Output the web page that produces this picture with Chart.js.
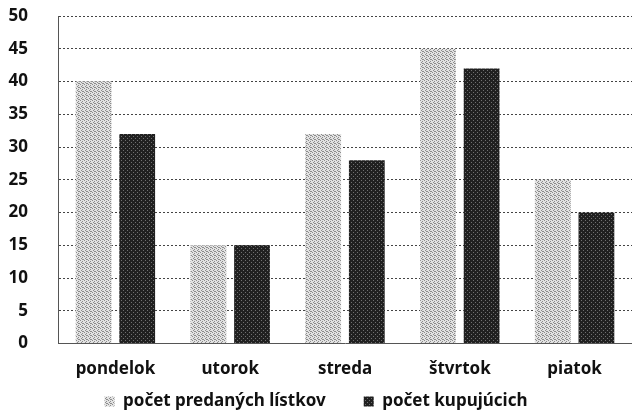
<!DOCTYPE html>
<html>
<head>
<meta charset="utf-8">
<script src="https://cdn.jsdelivr.net/npm/chart.js@4.4.1/dist/chart.umd.min.js"></script>
<style>
  html, body { margin: 0; padding: 0; background: #fff; }
  #wrap { width: 632px; height: 414px; }
</style>
</head>
<body>
<div id="wrap"><canvas id="myChart"></canvas></div>
<script>
var days = ["pondelok", "utorok", "streda", "štvrtok", "piatok"];
var soldTickets = [40, 15, 32, 45, 25];
var buyers = [32, 15, 28, 42, 20];
var seriesNames = ["počet predaných lístkov", "počet kupujúcich"];

// small stippled texture like the scanned print
function makePattern(base, dot, dots) {
    var c = document.createElement("canvas");
    c.width = 4;
    c.height = 4;
    var g = c.getContext("2d");
    g.fillStyle = base;
    g.fillRect(0, 0, 4, 4);
    g.fillStyle = dot;
    dots.forEach(function(p) {
        g.fillRect(p[0], p[1], 1, 1);
    });
    return g.createPattern(c, "repeat");
}

var lightFill = makePattern("#e2e2e2", "#8c8c8c", [[0, 0], [2, 1], [1, 2], [3, 3], [2, 3]]);
var darkFill = makePattern("#202020", "#707070", [[1, 0], [3, 2]]);

Chart.defaults.font.family = "'Noto Sans', sans-serif";
Chart.defaults.font.weight = "bold";
Chart.defaults.color = "#111";

var config = {
    type: "bar",
    data: {
        labels: days,
        datasets: [{
            label: seriesNames[0],
            data: soldTickets,
            backgroundColor: lightFill,
            categoryPercentage: 0.76,
            barPercentage: 0.82
        }, {
            label: seriesNames[1],
            data: buyers,
            backgroundColor: darkFill,
            categoryPercentage: 0.76,
            barPercentage: 0.82
        }]
    },
    options: {
        responsive: true,
        maintainAspectRatio: false,
        animation: false,
        layout: { padding: { top: 16, right: 0, left: 0, bottom: -6 } },
        plugins: {
            legend: {
                position: "bottom",
                labels: {
                    boxWidth: 10,
                    boxHeight: 10,
                    padding: 7,
                    font: { size: 17, weight: "bold" },
                    generateLabels: function(chart) {
                        var items = Chart.defaults.plugins.legend.labels.generateLabels(chart);
                        // wider gap between the two legend entries
                        items[0].text = items[0].text + "\u00a0\u00a0\u00a0\u00a0\u00a0\u00a0\u00a0";
                        return items;
                    }
                }
            },
            tooltip: { enabled: false }
        },
        scales: {
            x: {
                grid: { display: false },
                border: { display: true, color: "#555", dash: [2, 2] },
                ticks: { font: { size: 17, weight: "bold" }, padding: 7 }
            },
            y: {
                min: 0,
                max: 50,
                ticks: { stepSize: 5, font: { size: 17, weight: "bold" }, padding: 30 },
                grid: { color: "#444", drawTicks: false, lineWidth: 1 },
                border: { display: true, color: "#555", dash: [2, 2] },
                afterFit: function(scale) {
                    scale.width = 58;
                    scale.paddingTop = 16;
                    scale.paddingBottom = 0;
                }
            }
        }
    }
};

config.options.scales.y.grid.borderDash = [2, 1];

new Chart(document.getElementById("myChart").getContext("2d"), config);
</script>
</body>
</html>
